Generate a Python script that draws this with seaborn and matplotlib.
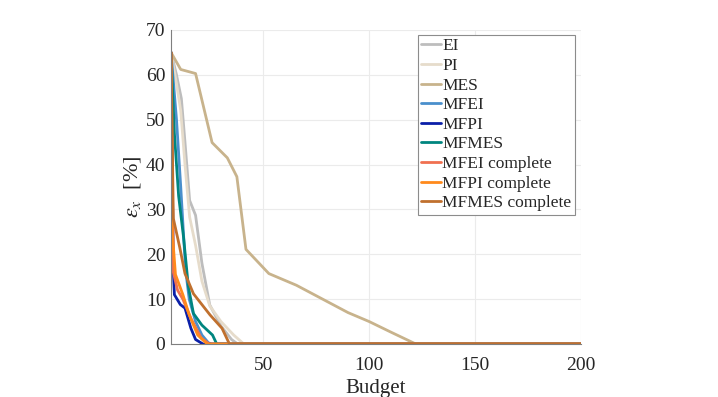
import matplotlib
matplotlib.use('Agg')
import matplotlib.pyplot as plt
import seaborn as sns
import pandas as pd

# Datos (budget, error %)
ei_x = [6.4, 9, 11.3, 13, 15.2, 18, 21, 24.7, 30, 35, 37.9, 200]
ei_y = [65, 60, 54.7, 45, 32, 28.7, 18, 8.7, 4, 1, 0, 0]
pi_x = [6.4, 9, 11, 13, 15.2, 18, 21, 24.7, 30, 36, 40.8, 200]
pi_y = [65, 58, 52, 40, 28.3, 22, 14, 8.5, 5, 2, 0, 0]
mes_x = [6.4, 11, 18, 25.8, 33, 37.5, 41.8, 52.6, 65.6, 78, 90, 100, 110, 122, 200]
mes_y = [65, 61.2, 60.3, 44.9, 41.5, 37.3, 21.1, 15.7, 13.1, 10, 7, 5, 2.7, 0, 0]
mfei_x = [6.4, 9, 11, 13.3, 15, 18, 21, 24, 25.5, 200]
mfei_y = [65, 50, 35, 16.5, 10, 5, 2, 0.3, 0, 0]
mfpi_x = [6.4, 7.5, 8, 10.8, 13, 15.8, 18, 21.5, 200]
mfpi_y = [65, 16.5, 11, 8.8, 8, 3.5, 1, 0, 0]
mfmes_x = [6.4, 8, 10, 12.3, 14.6, 17, 21, 26, 28, 200]
mfmes_y = [65, 47, 33, 23.9, 12.8, 6.8, 4.2, 2, 0, 0]
mfei_c_x = [6.4, 7.5, 9.5, 12, 16, 20.7, 24.5, 200]
mfei_c_y = [65, 16, 12, 10, 5.5, 1.3, 0, 0]
mfpi_c_x = [6.4, 7, 8.5, 12, 15, 19, 23.5, 200]
mfpi_c_y = [65, 25, 15.5, 11, 6.5, 2, 0, 0]
mfmes_c_x = [6.4, 7.5, 10.5, 13, 17, 24.8, 30.5, 34, 200]
mfmes_c_y = [65, 28, 21.6, 15.7, 11.2, 6.5, 3.5, 0, 0]

series = [
    ('EI', ei_x, ei_y, '#bdbdbd'),
    ('PI', pi_x, pi_y, '#e6dccb'),
    ('MES', mes_x, mes_y, '#c8b38c'),
    ('MFEI', mfei_x, mfei_y, '#4a8fcc'),
    ('MFPI', mfpi_x, mfpi_y, '#0b1fa8'),
    ('MFMES', mfmes_x, mfmes_y, '#00857f'),
    ('MFEI complete', mfei_c_x, mfei_c_y, '#f07050'),
    ('MFPI complete', mfpi_c_x, mfpi_c_y, '#ff8a1c'),
    ('MFMES complete', mfmes_c_x, mfmes_c_y, '#c0702e'),
]

sns.set_style('whitegrid')
plt.rcParams['font.family'] = ['Liberation Serif', 'DejaVu Serif']
plt.rcParams['mathtext.fontset'] = 'stix'

fig = plt.figure(figsize=(7.18, 3.97), dpi=100)
ax = fig.add_axes([171/718, 1 - 344/397, 410/718, 314/397])

for name, xs, ys, col in series:
    d = pd.DataFrame({'Budget': xs, 'err': ys})
    sns.lineplot(data=d, x='Budget', y='err', ax=ax, color=col, lw=2, label=name)

ax.set_xlim(6.4, 200)
ax.set_ylim(0, 70)
ax.set_xticks([50, 100, 150, 200])
ax.set_yticks(range(0, 71, 10))
ax.set_xlabel('Budget', fontsize=15, labelpad=4)
ax.set_ylabel(r'$\varepsilon_x$  [%]', fontsize=16, labelpad=2)
ax.tick_params(labelsize=14, direction='in', length=4, color='#555555')
ax.tick_params(axis='x', pad=9)
ax.tick_params(axis='y', pad=4)
ax.grid(color='#ebebeb', lw=0.8)
for s in ['top', 'right']:
    ax.spines[s].set_visible(False)
for s in ['left', 'bottom']:
    ax.spines[s].set_color('#7f7f7f')
    ax.spines[s].set_linewidth(0.8)

leg = ax.legend(loc='upper right', bbox_to_anchor=(0.985, 0.985), fontsize=12.5,
                handlelength=1.1, handletextpad=0.1, labelspacing=0.2,
                borderpad=0.2, borderaxespad=0, fancybox=False, framealpha=1)
leg.get_frame().set_edgecolor('#8c8c8c')
leg.get_frame().set_linewidth(0.8)

plt.savefig('out.png', dpi=100)
